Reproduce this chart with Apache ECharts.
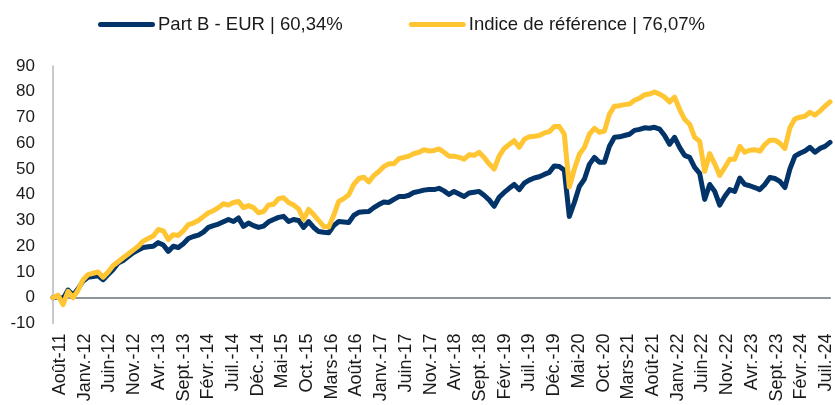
<!DOCTYPE html>
<html>
<head>
<meta charset="utf-8">
<script src="https://cdn.jsdelivr.net/npm/echarts@6/dist/echarts.min.js"></script>
<style>
html,body{margin:0;padding:0;background:#fff;}
#chart{width:835px;height:405px;}
</style>
</head>
<body>
<div id="chart"></div>
<script>
// Month names (French, Excel style) and start of the monthly series
const monthNames = ['Janv.','Févr.','Mars','Avr.','Mai','Juin','Juil.','Août','Sept.','Oct.','Nov.','Déc.'];
const startMonth = 7;   // Août
const startYear = 2011;
const monthCount = 156; // Août-11 .. Juil.-24

const categories = [];
for (let k = 0; k < monthCount; k++) {
  const m = (startMonth + k) % 12;
  const y = startYear + Math.floor((startMonth + k) / 12);
  categories.push(monthNames[m] + '-' + String(y % 100).padStart(2, '0'));
}

const yTicks = { min: -10, max: 90, interval: 10 };

const seriesNames = ['Part B - EUR | 60,34%', 'Indice de référence | 76,07%'];

const partB = [
  0, 0.5, -0.5, 3, 1, 3.5, 6.5, 8, 8.2, 8.5,
  7, 9, 11, 13.5, 14.5, 16, 17.5, 18.5, 19.5, 19.8,
  20, 21.4, 20.5, 18, 20, 19.5, 21, 23, 23.8, 24.3,
  25.5, 27.3, 28, 28.6, 29.5, 30.4, 29.6, 31, 27.7, 29,
  28, 27.3, 27.8, 29.5, 30.4, 31.2, 31.6, 29.6, 30.4, 30,
  27.3, 29.6, 27.3, 25.7, 25.4, 25.2, 28, 29.6, 29.4, 29.2,
  32, 33.2, 33.4, 33.5, 35, 36.2, 37.2, 37, 38.2, 39.3,
  39.3, 39.8, 40.9, 41.3, 41.8, 42, 42, 42.5, 41.5, 40.1,
  41.3, 40.3, 39.3, 40.7, 41, 41.3, 39.8, 38, 35.5, 39,
  40.9, 42.5, 44, 42, 44.5, 45.7, 46.5, 47, 47.9, 48.7,
  51.2, 51, 49.5, 31.6, 37, 43.2, 46, 51.8, 54.5, 52.6,
  52.6, 58.8, 62.3, 62.5, 63, 63.5, 65, 65.4, 66, 65.8,
  66.2, 65.5, 63, 59.6, 62.3, 58.4, 55.3, 54.5, 50.6, 48.3,
  38.2, 44, 41.3, 36, 39.3, 42, 41.3, 46.5, 44, 43.5,
  42.8, 42, 44, 46.7, 46.3, 45.2, 42.8, 50, 55, 56.1,
  57, 58.4, 56.5, 58, 58.8, 60.34
];

const indice = [
  0, 1, -2.7, 2.5, 0, 3, 7, 9, 9.5, 10,
  8, 10, 12.5, 14, 15.5, 17, 18.5, 20, 22, 23,
  24, 26.5, 26, 22.6, 24.5, 24.2, 26, 28.4, 29, 30,
  31.5, 33, 33.8, 35, 36.5, 36, 37, 37.4, 35, 35.8,
  35, 33, 33.5, 36, 36.3, 38.5, 38.8, 37, 36, 34.5,
  30.4, 34.3, 32.3, 30, 27.7, 27.5, 32, 37.4, 38.5, 40,
  44, 46.3, 46.8, 45, 47.5, 49, 51, 52, 52, 54,
  54.5, 55, 56, 56.5, 57.5, 57, 57.2, 57.8, 56.5, 55,
  55, 54.5, 53.8, 55.5, 55.3, 56.5, 54.5, 52, 50, 55,
  58, 59.5, 61, 58.4, 61.5, 62.5, 62.7, 63, 64, 64.5,
  66.5, 66.5, 63.5, 43, 50, 55.7, 58.4, 63.5, 65.8, 64.3,
  64.7, 71.3, 74.4, 74.6, 75, 75.2, 76.7, 77.5, 78.8, 79.1,
  79.9, 79.1, 77.9, 76, 77.9, 73.2, 69.3, 67.4, 62.3, 60.8,
  49.1, 56, 52, 47.5, 50.6, 53.8, 53.8, 58.8, 56.5, 57.3,
  57.5, 56.9, 59.5, 61.2, 61.2, 60, 58, 66, 69.5, 70.1,
  70.5, 72, 70.9, 72.5, 74.4, 76.07
];

const font = '"Liberation Sans", Arial, sans-serif';
const legendIcon = 'path://M2.5,0 H54.5 A2.5,2.5 0 0 1 54.5,5 H2.5 A2.5,2.5 0 0 1 2.5,0 Z';

const chart = echarts.init(document.getElementById('chart'), null, { renderer: 'canvas' });
chart.setOption({
  animation: false,
  backgroundColor: '#ffffff',
  textStyle: { fontFamily: font },
  legend: {
    left: 93,
    top: 10,
    itemWidth: 57,
    itemHeight: 5,
    itemGap: 66,
    icon: legendIcon,
    textStyle: { fontFamily: font, fontSize: 18.5, color: '#1a1a1a', padding: [0, 0, 0, -2] },
    data: seriesNames
  },
  grid: [
    { left: 53, right: 5, top: 66, bottom: 81.5, containLabel: false },
    { left: 60, right: 9, top: 66, bottom: 81.5, containLabel: false, show: false }
  ],
  xAxis: [
    {
      type: 'category',
      gridIndex: 0,
      data: categories,
      boundaryGap: false,
      position: 'bottom',
      axisLine: { show: true, onZero: true, lineStyle: { color: '#8c959d', width: 2 } },
      axisTick: { show: false },
      axisLabel: { show: false },
      splitLine: { show: false }
    },
    {
      type: 'category',
      gridIndex: 1,
      data: categories,
      boundaryGap: false,
      position: 'bottom',
      axisLine: { show: false, onZero: false },
      axisTick: { show: false },
      axisLabel: {
        interval: 4,
        rotate: 90,
        margin: 10,
        fontFamily: font,
        fontSize: 18,
        color: '#1a1a1a'
      },
      splitLine: { show: false }
    }
  ],
  yAxis: [
    {
      type: 'value',
      gridIndex: 0,
      min: yTicks.min,
      max: yTicks.max,
      interval: yTicks.interval,
      axisLine: { show: true, lineStyle: { color: '#b4b8bc', width: 1.5 } },
      axisTick: { show: false },
      splitLine: { show: false },
      axisLabel: { margin: 18, fontFamily: font, fontSize: 17, color: '#1a1a1a' }
    },
    {
      type: 'value',
      gridIndex: 1,
      min: yTicks.min,
      max: yTicks.max,
      interval: yTicks.interval,
      show: false
    }
  ],
  series: [
    {
      name: seriesNames[0],
      type: 'line',
      xAxisIndex: 0,
      yAxisIndex: 0,
      data: partB,
      showSymbol: false,
      symbol: 'none',
      color: '#02346a',
      lineStyle: { width: 5, color: '#02346a', cap: 'round', join: 'round' },
      z: 3
    },
    {
      name: seriesNames[1],
      type: 'line',
      xAxisIndex: 0,
      yAxisIndex: 0,
      data: indice,
      showSymbol: false,
      symbol: 'none',
      color: '#ffc533',
      lineStyle: { width: 5, color: '#ffc533', cap: 'round', join: 'round' },
      z: 4
    }
  ]
});
</script>
</body>
</html>
